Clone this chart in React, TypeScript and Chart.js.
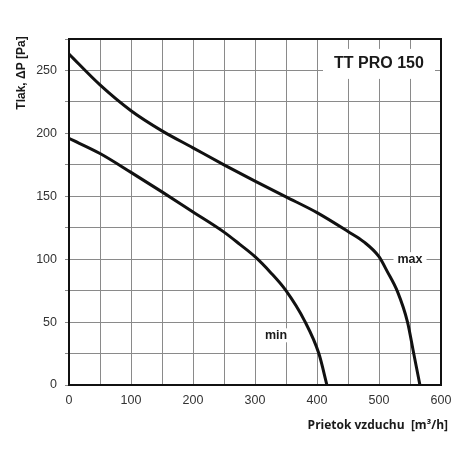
import React, { useEffect, useRef } from "react";
import { Chart, registerables } from "chart.js";

Chart.register(...registerables);

const maxFlow = [0, 50, 100, 150, 200, 250, 300, 350, 400, 450, 475, 500, 513, 530, 546, 556, 566];
const maxPressure = [263, 238.5, 218, 202, 188.5, 175, 162, 149.5, 137, 122, 114, 102, 90.5, 74, 50, 25, 0];
const minFlow = [0, 50, 100, 150, 200, 250, 275, 300, 325, 350, 380, 403, 416];
const minPressure = [196, 184, 169, 153.5, 137.5, 121.5, 112, 102, 89.5, 75, 51, 25, 0];

const xLabels = ["0", "100", "200", "300", "400", "500", "600"];
const yLabels = ["0", "50", "100", "150", "200", "250"];

const chartTitle = "TT PRO 150";
const xTitle = "Prietok vzduchu  [m³/h]";
const yTitle = "Tlak, ΔP [Pa]";
const curveLabels = [
  { text: "max", x: 550, y: 100 },
  { text: "min", x: 334, y: 39.5 },
];

const toPoints = (xs: number[], ys: number[]) => xs.map((x, i) => ({ x, y: ys[i] }));

const decorPlugin = {
  id: "decor",
  afterDatasetsDraw(chart: any) {
    const { ctx, chartArea, scales } = chart;
    const sx = scales.x;
    const sy = scales.y;
    ctx.save();
    ctx.strokeStyle = "#111";
    ctx.lineWidth = 2;
    ctx.strokeRect(chartArea.left, chartArea.top, chartArea.right - chartArea.left, chartArea.bottom - chartArea.top);

    ctx.font = "bold 16px 'Liberation Sans', Arial, sans-serif";
    ctx.textAlign = "center";
    ctx.textBaseline = "middle";
    const tx = sx.getPixelForValue(500);
    const ty = sy.getPixelForValue(256);
    ctx.fillStyle = "#fff";
    ctx.fillRect(tx - 56, ty - 14, 112, 30);
    ctx.fillStyle = "#1a1a1a";
    ctx.fillText(chartTitle, tx, ty + 1);

    ctx.font = "bold 12.5px 'Liberation Sans', Arial, sans-serif";
    for (const l of curveLabels) {
      const px = sx.getPixelForValue(l.x);
      const py = sy.getPixelForValue(l.y);
      const w = ctx.measureText(l.text).width;
      ctx.fillStyle = "#fff";
      ctx.fillRect(px - w / 2 - 4, py - 7, w + 8, 14);
      ctx.fillStyle = "#1a1a1a";
      ctx.fillText(l.text, px, py);
    }

    ctx.font = "bold 12px 'Open Sans', 'Liberation Sans', sans-serif";
    ctx.textAlign = "right";
    ctx.textBaseline = "alphabetic";
    ctx.fillText(xTitle, 448, 429);

    ctx.font = "bold 12px 'Liberation Sans', Arial, sans-serif";
    ctx.translate(22, 73);
    ctx.rotate(-Math.PI / 2);
    ctx.textAlign = "center";
    ctx.textBaseline = "middle";
    ctx.fillText(yTitle, 0, 0);
    ctx.restore();
  },
};

export default function App() {
  const ref = useRef<HTMLCanvasElement>(null);
  useEffect(() => {
    if (!ref.current) return;
    const tickFont = { family: "'Liberation Sans', Arial, sans-serif", size: 12.5 };
    const lineStyle = {
      showLine: true,
      borderColor: "#111",
      borderWidth: 3,
      pointRadius: 0,
      cubicInterpolationMode: "monotone",
      borderCapStyle: "round",
      borderJoinStyle: "round",
    };
    const chart = new Chart(ref.current, {
      type: "scatter",
      data: {
        datasets: [
          { label: "max", data: toPoints(maxFlow, maxPressure), ...lineStyle },
          { label: "min", data: toPoints(minFlow, minPressure), ...lineStyle },
        ],
      },
      options: {
        animation: false,
        responsive: false,
        maintainAspectRatio: false,
        layout: { padding: { left: 0, right: 29, top: 39, bottom: 0 } },
        plugins: {
          legend: { display: false },
          tooltip: { enabled: false },
          title: { display: false },
        },
        scales: {
          x: {
            type: "linear",
            min: 0,
            max: 600,
            afterFit: (s: any) => {
              s.height = 85;
            },
            grid: { color: "#8a8a8a", lineWidth: 1, drawTicks: false },
            border: { display: false },
            ticks: {
              stepSize: 50,
              padding: 8,
              color: "#333",
              font: tickFont,
              maxRotation: 0,
              autoSkip: false,
              callback: (v: any) => {
                const s = String(v);
                return xLabels.includes(s) ? s : "";
              },
            },
          },
          y: {
            type: "linear",
            min: 0,
            max: 275,
            afterFit: (s: any) => {
              s.width = 69;
            },
            grid: { color: "#8a8a8a", lineWidth: 1, drawTicks: true, tickLength: 4 },
            border: { display: false },
            ticks: {
              stepSize: 25,
              padding: 8,
              color: "#333",
              font: tickFont,
              autoSkip: false,
              callback: (v: any) => {
                const s = String(v);
                return yLabels.includes(s) ? s : "";
              },
            },
          },
        },
      },
      plugins: [decorPlugin],
    } as any);
    return () => chart.destroy();
  }, []);
  return (
    <div style={{ position: "fixed", left: 0, top: 0, width: 470, height: 470, background: "#fff" }}>
      <canvas ref={ref} width={470} height={470} style={{ width: 470, height: 470 }} />
    </div>
  );
}
